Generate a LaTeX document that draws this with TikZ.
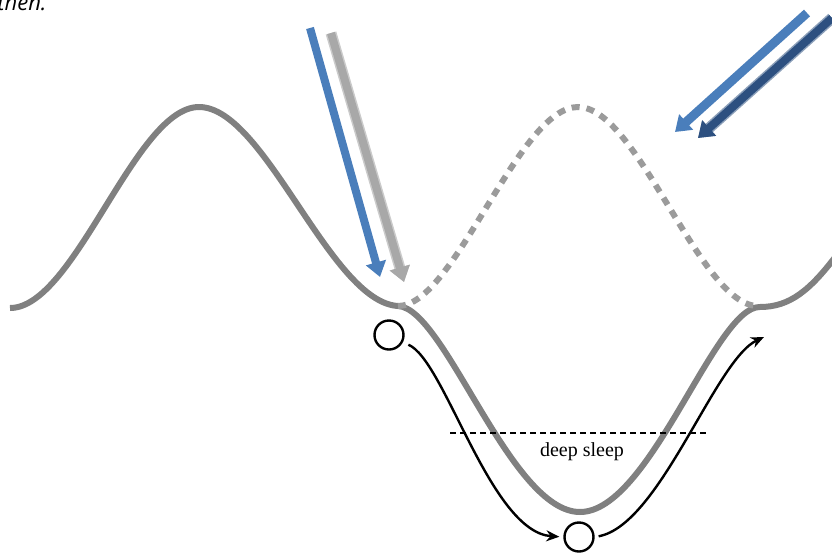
\documentclass[tikz,border=0pt]{standalone}
\usepackage{fontspec}
\setmainfont{Liberation Serif}
\newfontfamily\notefont{Open Sans}
\usetikzlibrary{arrows.meta}
\definecolor{curvegray}{RGB}{128,128,128}
\definecolor{dashgray}{RGB}{155,155,155}
\definecolor{shadegray}{RGB}{168,168,168}
\definecolor{lightblue}{RGB}{74,126,187}
\definecolor{darkblue}{RGB}{45,80,128}
\begin{document}
\begin{tikzpicture}[x=0.5pt, y=-0.5pt,
  ground/.style={draw=curvegray, line width=3pt},
  oldhill/.style={draw=dashgray, line width=3pt, dash pattern=on 4pt off 3.5pt},
  light/.style={line width=4pt, -{Triangle[width=10pt,length=7.5pt]}},
  ball/.style={circle, draw, line width=1.2pt, minimum size=14.5pt, inner sep=0pt},
  path/.style={line width=1.2pt, -{Stealth[length=6.5pt,width=5.5pt]}}]
  \clip (0,0) rectangle (832,553);
  \useasboundingbox (0,0) rectangle (832,553);
  \node[anchor=base west, inner sep=0pt, font=\notefont\itshape\fontsize{11}{13}\selectfont] (note) at (-3,10) {then.};
  % landscape
  \draw[ground] (10,308) .. controls (75,308) and (135,107) .. (199,107)
    .. controls (265,107) and (330,302) .. (398,306)
    .. controls (445,308) and (510,512) .. (580,512)
    .. controls (650,512) and (715,306) .. (760,307)
    .. controls (790,307) and (810,290) .. (836,256);
  \draw[oldhill] (398,306) .. controls (455,306) and (518,107) .. (578,107)
    .. controls (638,107) and (700,306) .. (758,306);
  % arrows from above
  \coordinate (sunA) at (310,28);   \coordinate (hitA) at (380,277);
  \coordinate (shadeA) at (331,33); \coordinate (shadeB) at (404,282);
  \coordinate (sunB) at (807,13);   \coordinate (hitB) at (675,132);
  \coordinate (deepA) at (832,18);  \coordinate (deepB) at (698,138);
  \draw[light, shadegray!60, line width=5.5pt] (shadeA) -- (shadeB);
  \draw[light, shadegray] (shadeA) -- (shadeB);
  \draw[light, darkblue!55, line width=5.5pt] (deepA) -- (deepB);
  \draw[light, darkblue] (deepA) -- (deepB);
  \draw[light, lightblue] (sunA) -- (hitA);
  \draw[light, lightblue, line width=4.5pt] (sunB) -- (hitB);
  % sleeper
  \node[ball] (start) at (389,335) {};
  \node[ball] (well) at (579,537) {};
  \coordinate (wake) at (764,337);
  \draw[path, shorten <=3pt, shorten >=2pt] (start.-28) .. controls (445,360) and (490,532) .. (well.west);
  \draw[path, shorten <=2pt] (well.east) .. controls (660,525) and (715,360) .. (wake);
  \coordinate (lineA) at (450,433);
  \coordinate (lineB) at (708,433);
  \draw[line width=0.75pt, dash pattern=on 3pt off 2pt] (lineA) -- (lineB);
  \node[font=\fontsize{10}{12}\selectfont] (deep) at (582,452) {deep sleep};
\end{tikzpicture}
\end{document}
